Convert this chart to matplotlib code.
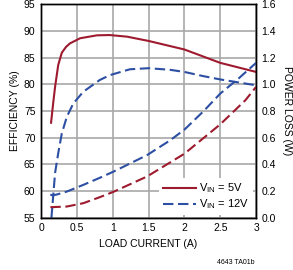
import matplotlib
matplotlib.use('Agg')
import matplotlib.pyplot as plt

# efficiency curves (%)
eff5_i = [0.14, 0.17, 0.196, 0.24, 0.29, 0.35, 0.405, 0.545, 0.78, 0.96, 1.2, 1.5, 2.0, 2.5, 3.0]
eff5_v = [72.8, 76.5, 79.5, 83.6, 85.9, 87.0, 87.65, 88.6, 89.15, 89.2, 88.9, 88.1, 86.5, 84.0, 82.3]
eff12_i = [0.145, 0.196, 0.24, 0.29, 0.36, 0.45, 0.59, 0.82, 0.96, 1.24, 1.5, 1.8, 2.0, 2.27, 2.5, 3.0]
eff12_v = [55.0, 63.4, 67.1, 70.8, 73.9, 76.4, 78.6, 80.8, 81.7, 82.8, 83.0, 82.7, 82.3, 81.5, 80.9, 79.8]

# power loss curves (W)
loss5_i = [0.13, 0.36, 0.59, 0.82, 1.01, 1.48, 2.0, 2.5, 2.85, 3.0]
loss5_v = [0.08, 0.085, 0.11, 0.155, 0.195, 0.31, 0.48, 0.70, 0.88, 0.98]
loss12_i = [0.13, 0.16, 0.22, 0.36, 0.59, 0.82, 1.01, 1.48, 1.8, 2.0, 2.27, 2.5, 2.76, 3.0]
loss12_v = [0.175, 0.168, 0.175, 0.197, 0.247, 0.30, 0.346, 0.47, 0.58, 0.66, 0.80, 0.93, 1.045, 1.16]

red = '#9e1a2e'
blue = '#2c4fa3'

plt.rcParams['font.family'] = ['Liberation Sans Narrow', 'Liberation Sans', 'DejaVu Sans']
plt.rcParams['font.size'] = 7.5

fig = plt.figure(figsize=(2.93, 2.7), dpi=100)
ax = fig.add_axes([0.14, 0.193, 0.734, 0.792])
ax2 = ax.twinx()

ax.plot(eff5_i, eff5_v, color=red, lw=1.5, label='$\\mathregular{V_{IN}}$ = 5V')
ax.plot(eff12_i, eff12_v, color=blue, lw=1.5, dashes=(5, 2.2), label='$\\mathregular{V_{IN}}$ = 12V')
ax2.plot(loss5_i, loss5_v, color=red, lw=1.5, dashes=(5, 2.2))
ax2.plot(loss12_i, loss12_v, color=blue, lw=1.5, dashes=(5, 2.2))

ax.set_xlim(0, 3)
ax.set_ylim(55, 95)
ax2.set_ylim(0, 1.6)
ax.set_xticks([0, 0.5, 1, 1.5, 2, 2.5, 3])
ax.set_xticklabels(['0', '0.5', '1', '1.5', '2', '2.5', '3'])
ax.set_yticks(range(55, 96, 5))
ax2.set_yticks([0, 0.2, 0.4, 0.6, 0.8, 1.0, 1.2, 1.4, 1.6])
ax2.set_yticklabels(['%.1f' % v for v in ax2.get_yticks()])

ax.grid(True, color='#a8a8a8', lw=1.2)
ax.set_axisbelow(True)
ax.tick_params(length=0, pad=4)
ax2.tick_params(length=0, pad=4)
for a in (ax, ax2):
    for s in a.spines.values():
        s.set_linewidth(1.0)

ax.set_xlabel('LOAD CURRENT (A)', labelpad=4)
ax.set_ylabel('EFFICIENCY (%)', labelpad=3)
ax2.set_ylabel('POWER LOSS (W)', rotation=-90, labelpad=11)

leg = ax.legend(loc='lower right', frameon=True, fancybox=False, edgecolor='none',
                handlelength=3.0, handletextpad=0.3, borderpad=0.3, labelspacing=0.2,
                borderaxespad=0.3, fontsize=8)
leg.get_frame().set_facecolor('white')
leg.get_frame().set_alpha(1)

fig.text(0.87, 0.015, '4643 TA01b', fontsize=5, ha='right', va='bottom')

fig.savefig('out.png', dpi=100)
